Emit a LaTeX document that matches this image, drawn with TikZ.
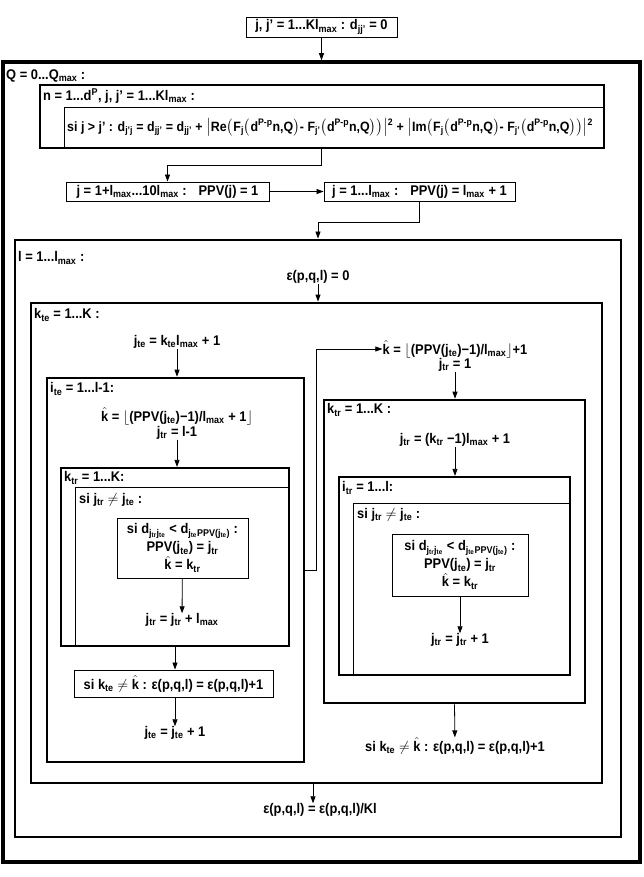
\documentclass[tikz,border=0pt]{standalone}
\usepackage{amsmath}
\usepackage{fontspec}
\setmainfont{Liberation Sans}[FakeStretch=0.92]
\usepackage{tikz}
\usetikzlibrary{arrows.meta}

\newcommand{\subx}[1]{\textsubscript{#1}}
\newcommand{\supx}[1]{\textsuperscript{#1}}
\newcommand{\kh}{\ensuremath{\hat{\mbox{k}}}}
\newcommand{\nq}{\ensuremath{\neq}}

\begin{document}
\begin{tikzpicture}[x=1pt, y=-1pt,
  every node/.style={font=\bfseries\fontsize{14}{18}\selectfont, inner sep=0pt},
  outerbox/.style={draw, line width=3.5pt},
  loopbox/.style={draw, line width=2.8pt},
  subbox/.style={draw, line width=2.2pt},
  thinbox/.style={draw, line width=0.9pt},
  arr/.style={-{Triangle[length=7pt,width=5pt]}, line width=0.8pt}]
\useasboundingbox (0,0) rectangle (644,877);

  \node[thinbox, minimum width=151pt, minimum height=20pt] (init) at (321.5,27)
    {j, j' = 1...Kl\subx{max} : d\subx{jj'} = 0};

  % Q loop
  \node[outerbox, minimum width=637pt, minimum height=800pt] (qloop) at (321.5,462) {};
  \node[anchor=west] (qlab) at (6,76) {Q = 0...Q\subx{max} :};

  \node[thinbox, line width=1.3pt, minimum width=564pt, minimum height=63pt] (nloop) at (322,116.5) {};
  \node[thinbox, minimum width=540pt, minimum height=41pt] (dist) at (334,127.5) {};
  \node[anchor=west] (nlab) at (43,96) {n = 1...d\supx{P}, j, j' = 1...Kl\subx{max} :};
  \node[anchor=west, font=\bfseries\fontsize{13.5}{16}\selectfont] (distlab) at (67,127.5)
    {si j > j' : d\subx{j'j} = d\subx{jj'} = d\subx{jj'} + $\bigl|$Re$\bigl($F\subx{j}$\bigl($d\supx{P-p}n,Q$\bigr)$- F\subx{j'}$\bigl($d\supx{P-p}n,Q$\bigr)\bigr)\bigr|$\supx{2} + $\bigl|$Im$\bigl($F\subx{j}$\bigl($d\supx{P-p}n,Q$\bigr)$- F\subx{j'}$\bigl($d\supx{P-p}n,Q$\bigr)\bigr)\bigr|$\supx{2}};

  \node[thinbox, minimum width=203pt, minimum height=19pt] (ppva) at (167.5,191.5)
    {j = 1+l\subx{max}...10l\subx{max} :~~ PPV(j) = 1};
  \node[thinbox, minimum width=191pt, minimum height=19pt] (ppvb) at (419.5,191.5)
    {j = 1...l\subx{max} :~~ PPV(j) = l\subx{max} + 1};

  % l loop
  \node[loopbox, minimum width=606pt, minimum height=597pt] (lloop) at (318,538.5) {};
  \node[anchor=west] (llab) at (18,258) {l = 1...l\subx{max} :};
  \node (eps0) at (318,277) {ε(p,q,l) = 0};
  \node (epskl) at (320,810) {ε(p,q,l) = ε(p,q,l)/Kl};

  % k_te loop
  \node[loopbox, minimum width=571pt, minimum height=480pt] (kte) at (316.5,543) {};
  \node[anchor=west] (ktelab) at (34,315) {k\subx{te} = 1...K :};
  \node (jte) at (177,342) {j\subx{te} = k\subx{te}l\subx{max} + 1};

  % left branch
  \node[loopbox, line width=2.6pt, minimum width=257pt, minimum height=384pt] (ite) at (175.5,570) {};
  \node[anchor=west] (itelab) at (50,389) {i\subx{te} = 1...l-1:};
  \node (khata) at (177,416) {\kh{} = $\lfloor$(PPV(j\subx{te})−1)/l\subx{max} + 1$\rfloor$};
  \node (jtra) at (177,433) {j\subx{tr} = l-1};

  \node[subbox, minimum width=228pt, minimum height=178pt] (ktra) at (175,557) {};
  \node[thinbox, minimum width=214pt, minimum height=159pt] (sija) at (182,566.5) {};
  \node[anchor=west] (ktralab) at (64,478) {k\subx{tr} = 1...K:};
  \node[anchor=west] (sijalab) at (79,500) {si j\subx{tr} \nq{} j\subx{te} :};
  \node[thinbox, minimum width=131pt, minimum height=60pt, align=center] (sida) at (182.5,548)
    {si d\subx{j\subx{tr}j\subx{te}} < d\subx{j\subx{te}PPV(j\subx{te})} :\\
     PPV(j\subx{te}) = j\subx{tr}\\ \kh{} = k\subx{tr}};
  \node (jtrinca) at (182,620) {j\subx{tr} = j\subx{tr} + l\subx{max}};

  \node[thinbox, minimum width=199pt, minimum height=27pt] (sika) at (173.5,683.5)
    {si k\subx{te} \nq{} \kh{} : ε(p,q,l) = ε(p,q,l)+1};
  \node (jteinc) at (175,733) {j\subx{te} = j\subx{te} + 1};

  % right branch
  \node (khatb) at (455,349) {\kh{} = $\lfloor$(PPV(j\subx{te})−1)/l\subx{max}$\rfloor$+1};
  \node (jtrb) at (455,365) {j\subx{tr} = 1};

  \node[loopbox, line width=2.6pt, minimum width=261pt, minimum height=303pt] (ktrb) at (454.5,551.5) {};
  \node[anchor=west] (ktrblab) at (327,410) {k\subx{tr} = 1...K :};
  \node (jtrstart) at (455,440) {j\subx{tr} = (k\subx{tr} −1)l\subx{max} + 1};

  \node[subbox, minimum width=231pt, minimum height=198pt] (itrb) at (454.5,576) {};
  \node[thinbox, minimum width=217pt, minimum height=172pt] (sijb) at (461.5,589) {};
  \node[anchor=west] (itrblab) at (342,488) {i\subx{tr} = 1...l:};
  \node[anchor=west] (sijblab) at (357,515) {si j\subx{tr} \nq{} j\subx{te} :};
  \node[thinbox, minimum width=136pt, minimum height=62pt, align=center] (sidb) at (460,565)
    {si d\subx{j\subx{tr}j\subx{te}} < d\subx{j\subx{te}PPV(j\subx{te})} :\\
     PPV(j\subx{te}) = j\subx{tr}\\ \kh{} = k\subx{tr}};
  \node (jtrincb) at (460,640) {j\subx{tr} = j\subx{tr} + 1};
  \node (sikb) at (455,746) {si k\subx{te} \nq{} \kh{} : ε(p,q,l) = ε(p,q,l)+1};

  % connectors
  \draw[arr] (init) -- (init |- qloop.north);
  \draw[arr] (dist.south -| init) -- ++(0,17) -| (ppva.north);
  \draw[arr] (ppva) -- (ppvb);
  \draw[arr] (ppvb.south) -- ++(0,21) -| (lloop.north);
  \draw[arr] (eps0) -- (eps0 |- kte.north);
  \draw[arr] (jte) -- (jte |- ite.north);
  \draw[arr] (jtra) -- (jtra |- ktra.north);
  \draw[arr] (sida) -- (jtrinca);
  \draw[arr] (ktra.south) -- (sika.north -| ktra.south);
  \draw[arr] (sika.south -| jteinc) -- (jteinc);
  \draw[arr, line width=0.6pt] (ite.east) -- ++(11,0) |- (khatb.west);
  \draw[arr] (jtrb) -- (jtrb |- ktrb.north);
  \draw[arr] (jtrstart) -- (jtrstart |- itrb.north);
  \draw[arr] (sidb) -- (jtrincb);
  \draw[arr] (ktrb.south) -- (sikb);
  \draw[arr] (kte.south -| 313,0) -- (epskl.north -| 313,0);

\end{tikzpicture}
\end{document}
